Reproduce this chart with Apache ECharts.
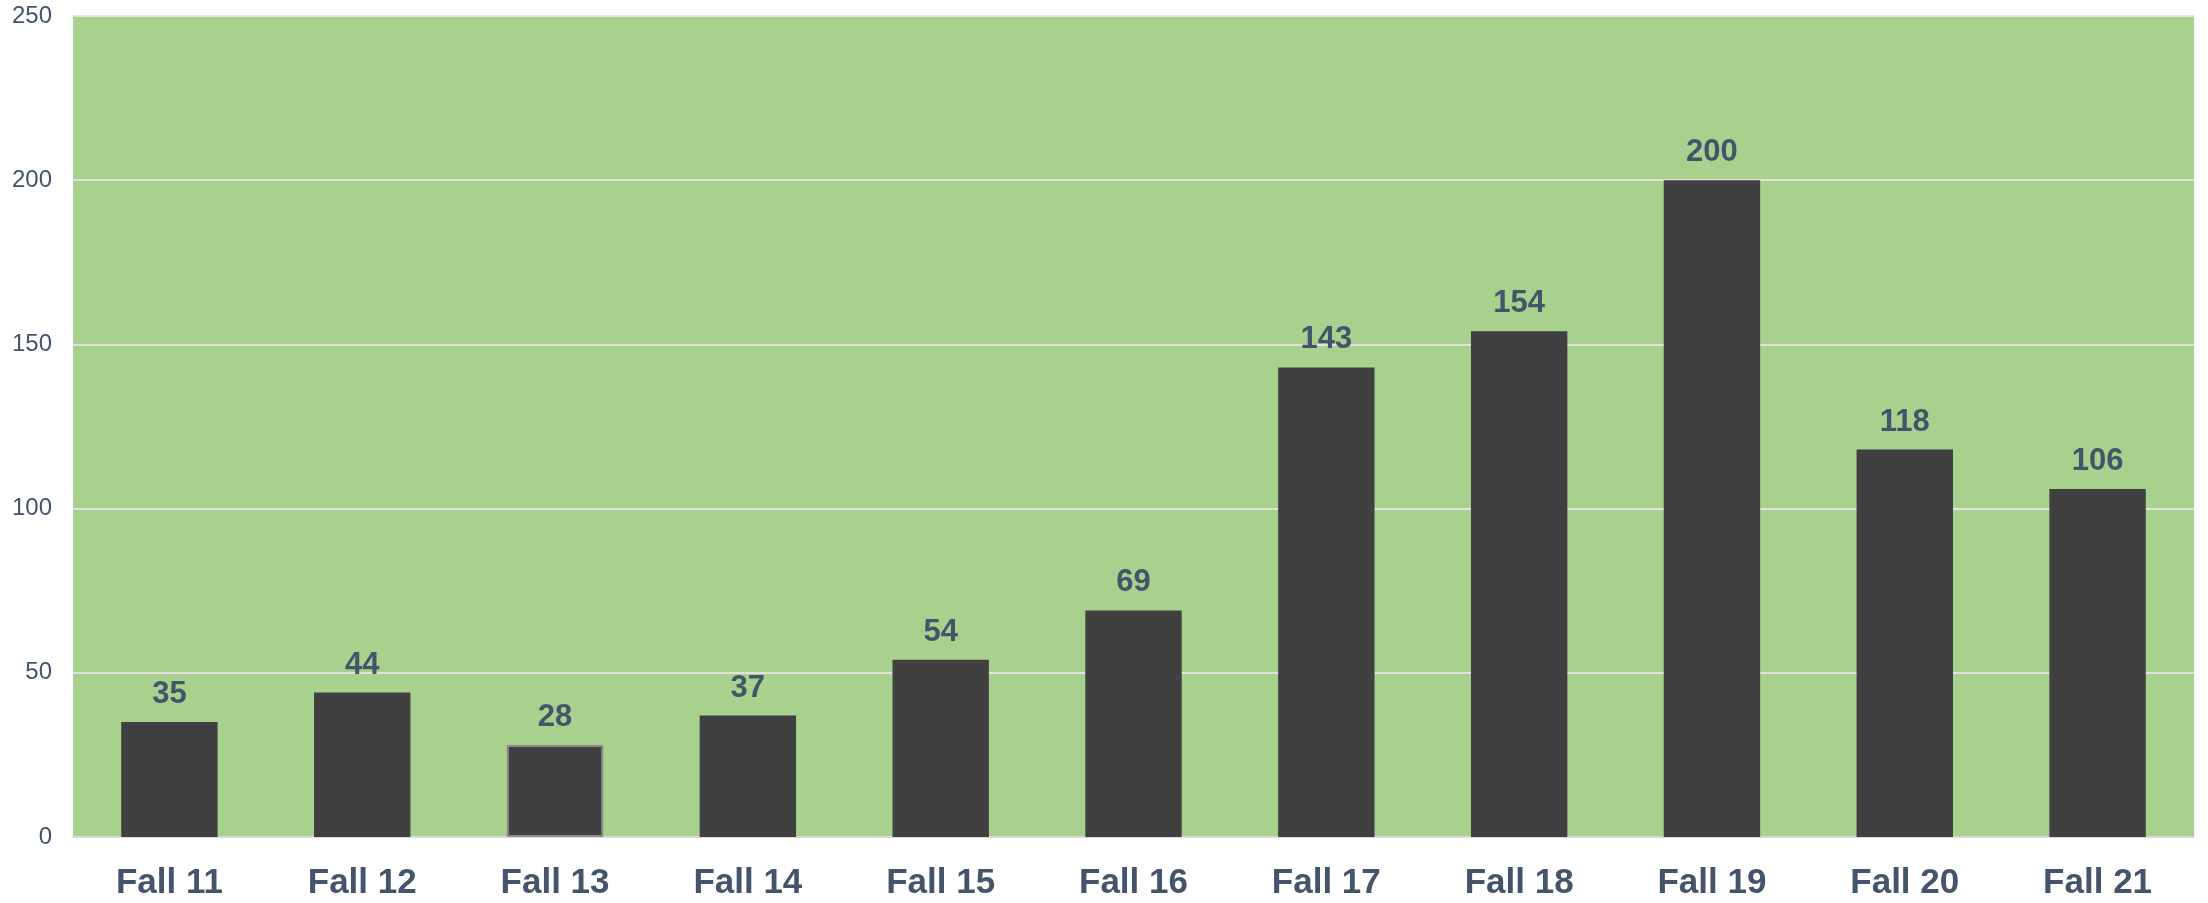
<!DOCTYPE html>
<html>
<head>
<meta charset="utf-8">
<script src="https://cdn.jsdelivr.net/npm/echarts@6/dist/echarts.min.js"></script>
<style>
  html, body { margin: 0; padding: 0; background: #fff; }
  #main { width: 2208px; height: 903px; }
</style>
</head>
<body>
<div id="main"></div>
<script>
const categories = ['Fall 11', 'Fall 12', 'Fall 13', 'Fall 14', 'Fall 15', 'Fall 16', 'Fall 17', 'Fall 18', 'Fall 19', 'Fall 20', 'Fall 21']
const counts = [35, 44, 28, 37, 54, 69, 143, 154, 200, 118, 106]

const chart = echarts.init(document.getElementById('main'))
const textColor = '#44546a'

chart.setOption({
  animation: false,
  grid: {
    left: 73,
    right: 14,
    top: 16,
    bottom: 66,
    show: true,
    backgroundColor: '#a9d18e',
    borderWidth: 0
  },
  xAxis: {
    type: 'category',
    data: categories,
    axisTick: { show: false },
    axisLine: { lineStyle: { color: '#d9d9d9', width: 2 } },
    axisLabel: {
      color: textColor,
      fontSize: 35,
      fontWeight: 'bold',
      fontFamily: 'Liberation Sans, Arial, sans-serif',
      margin: 29
    }
  },
  yAxis: {
    type: 'value',
    min: 0,
    max: 250,
    interval: 50,
    axisLine: { show: false },
    axisTick: { show: false },
    splitLine: { lineStyle: { color: '#e2e2e2', width: 2 } },
    axisLabel: {
      color: textColor,
      fontSize: 24,
      fontFamily: 'Liberation Sans, Arial, sans-serif',
      margin: 21
    }
  },
  series: [
    {
      type: 'bar',
      data: counts.map((v, i) => {
        // Fall 13 has a grey outline in the original
        if (i === 2) {
          return { value: v, itemStyle: { borderColor: '#8c8c8c', borderWidth: 2 } }
        }
        return v
      }),
      barWidth: '50%',
      itemStyle: { color: '#404040' },
      label: {
        show: true,
        position: 'top',
        distance: 12,
        color: textColor,
        fontSize: 31,
        fontWeight: 'bold',
        fontFamily: 'Liberation Sans, Arial, sans-serif'
      }
    }
  ]
})
</script>
</body>
</html>
